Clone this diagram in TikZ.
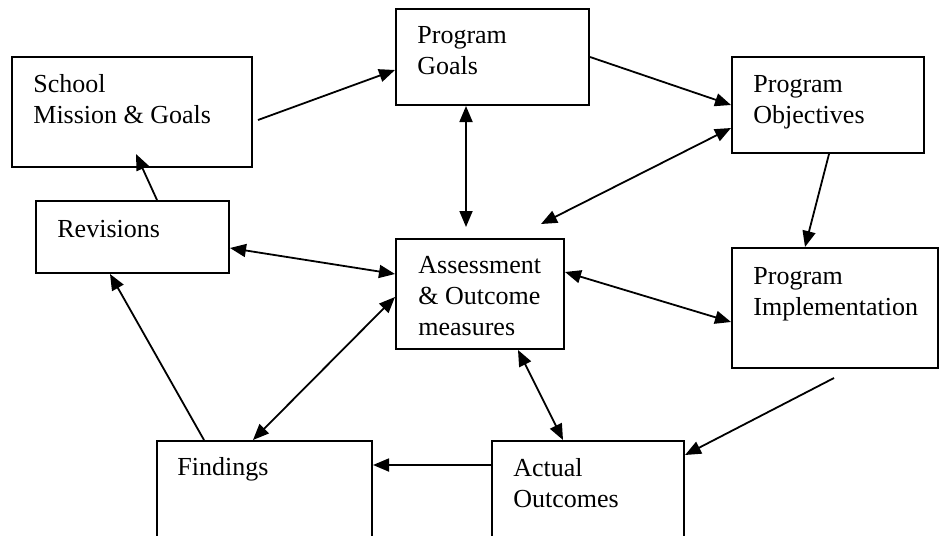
\documentclass[tikz,border=0pt]{standalone}
\usepackage{fontspec}
\setmainfont{Liberation Serif}
\usetikzlibrary{arrows.meta,calc}
\begin{document}
\begin{tikzpicture}[x=0.5pt,y=-0.5pt,
  box/.style={draw, line width=1pt, rectangle, inner sep=0pt},
  lbl/.style={anchor=base west, inner sep=0pt, align=left, font=\fontsize{13pt}{15.5pt}\selectfont},
  arr/.style={line width=0.9pt, -{Triangle[length=8pt,width=6.5pt]}},
  darr/.style={line width=0.9pt, {Triangle[length=8pt,width=6.5pt]}-{Triangle[length=8pt,width=6.5pt]}}]
\path[use as bounding box] (0,0) rectangle (940,535);
\clip (0,0) rectangle (940,535);
% boxes
\node[box, minimum width=120pt, minimum height=55pt] (school) at (132,112) {};
\node[box, minimum width=96.5pt, minimum height=48pt] (goals) at (492.5,57) {};
\node[box, minimum width=96pt, minimum height=48pt] (objectives) at (828,105) {};
\node[box, minimum width=96.5pt, minimum height=36pt] (revisions) at (132.5,237) {};
\node[box, minimum width=84pt, minimum height=55pt] (assess) at (480,294) {};
\node[box, minimum width=103pt, minimum height=60pt] (impl) at (835,308) {};
\node[box, minimum width=107.5pt, minimum height=59.5pt] (findings) at (264.5,500.5) {};
\node[box, minimum width=96pt, minimum height=59.5pt] (actual) at (588,500.5) {};
% labels (anchor at baseline of last line)
\node[lbl] (schoolT) at (33,123) {School\\Mission \& Goals};
\node[lbl] (goalsT) at (417,75) {Program\\Goals};
\node[lbl] (objectivesT) at (753,123) {Program\\Objectives};
\node[lbl] (revisionsT) at (57,237) {Revisions};
\node[lbl] (assessT) at (418,335) {Assessment\\\& Outcome\\measures};
\node[lbl] (implT) at (753,315) {Program\\Implementation};
\node[lbl] (findingsT) at (177,475) {Findings};
\node[lbl] (actualT) at (513,507) {Actual\\Outcomes};
% connectors
\draw[arr] ($(school.east |- 0,120)+(5,0)$) -- (goals.west |- 0,70);
\draw[arr] (goals.east |- 0,57) -- (objectives.west |- 0,105);
\draw[darr] (goals.south -| 466,0) -- ($(assess.north -| 466,0)+(0,-11)$);
\draw[darr] (objectives.west |- 0,128) -- ($(assess.north -| 541,0)+(0,-14)$);
\draw[arr] (objectives.south -| 829,0) -- (impl.north -| 805,0);
\draw[arr] (revisions.north -| 157,0) -- ($(school.south -| 136,0)+(0,-14)$);
\draw[darr] (revisions.east |- 0,248) -- (assess.west |- 0,274);
\draw[arr] (findings.north -| 204,0) -- (revisions.south -| 110,0);
\draw[darr] (findings.north -| 253,0) -- (assess.west |- 0,297);
\draw[darr] (assess.south -| 518,0) -- (actual.north -| 563,0);
\draw[darr] (assess.east |- 0,272) -- (impl.west |- 0,322);
\draw[arr] ($(impl.south -| 834,0)+(0,9)$) -- (actual.east |- 0,455);
\draw[arr] (actual.west |- 0,465) -- (findings.east |- 0,465);
\end{tikzpicture}
\end{document}
